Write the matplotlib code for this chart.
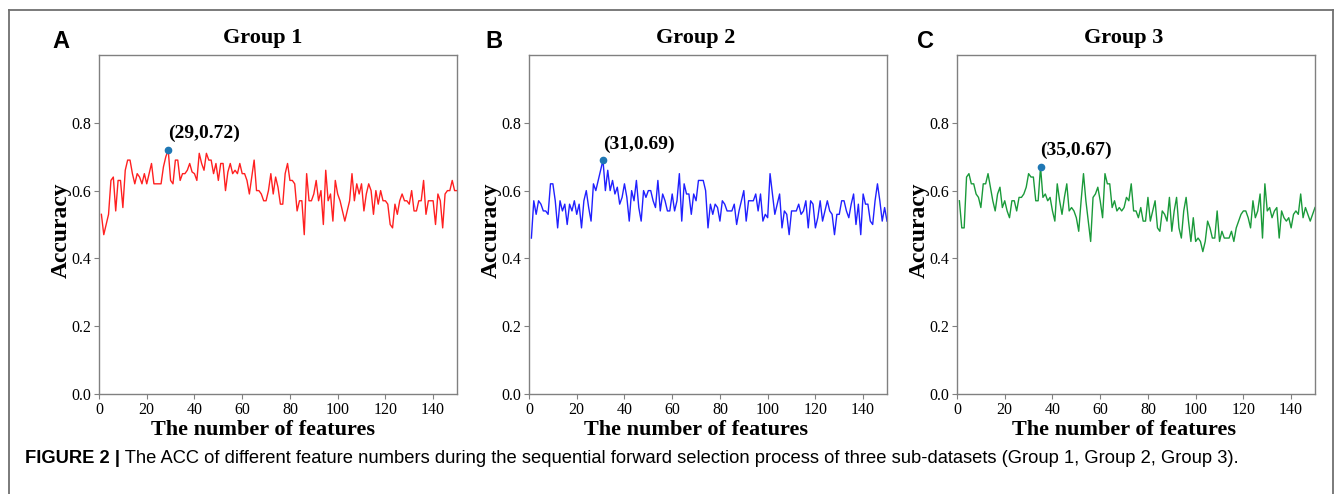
import matplotlib
matplotlib.use("Agg")
import matplotlib.pyplot as plt
from matplotlib.lines import Line2D

# ---------------- data ----------------
features = list(range(1, 151))

acc_group1 = [
    0.53, 0.47, 0.50, 0.53, 0.63, 0.64, 0.54, 0.63, 0.63, 0.55,
    0.66, 0.69, 0.69, 0.65, 0.62, 0.65, 0.64, 0.62, 0.65, 0.62,
    0.65, 0.68, 0.62, 0.62, 0.62, 0.62, 0.67, 0.70, 0.72, 0.63,
    0.62, 0.69, 0.69, 0.63, 0.65, 0.65, 0.66, 0.68, 0.655, 0.65,
    0.63, 0.71, 0.68, 0.66, 0.71, 0.69, 0.69, 0.65, 0.68, 0.63,
    0.68, 0.68, 0.60, 0.655, 0.68, 0.65, 0.66, 0.65, 0.68, 0.65,
    0.65, 0.63, 0.59, 0.64, 0.69, 0.60, 0.60, 0.59, 0.57, 0.57,
    0.60, 0.65, 0.59, 0.64, 0.61, 0.56, 0.56, 0.65, 0.68, 0.63,
    0.63, 0.62, 0.54, 0.57, 0.57, 0.47, 0.65, 0.57, 0.57, 0.59,
    0.63, 0.57, 0.60, 0.50, 0.66, 0.57, 0.59, 0.51, 0.63, 0.59,
    0.57, 0.54, 0.51, 0.54, 0.57, 0.65, 0.57, 0.62, 0.59, 0.62,
    0.54, 0.59, 0.62, 0.60, 0.53, 0.60, 0.56, 0.60, 0.57, 0.57,
    0.56, 0.50, 0.49, 0.56, 0.53, 0.57, 0.59, 0.57, 0.57, 0.56,
    0.60, 0.54, 0.54, 0.57, 0.57, 0.63, 0.53, 0.57, 0.57, 0.57,
    0.50, 0.59, 0.57, 0.49, 0.59, 0.60, 0.60, 0.63, 0.60, 0.60,
]

acc_group2 = [
    0.46, 0.57, 0.53, 0.57, 0.56, 0.54, 0.54, 0.53, 0.62, 0.62,
    0.57, 0.49, 0.57, 0.54, 0.56, 0.50, 0.56, 0.54, 0.57, 0.53,
    0.56, 0.49, 0.57, 0.60, 0.55, 0.51, 0.62, 0.60, 0.63, 0.66,
    0.69, 0.60, 0.66, 0.60, 0.63, 0.59, 0.61, 0.56, 0.58, 0.62,
    0.58, 0.51, 0.60, 0.57, 0.63, 0.55, 0.51, 0.60, 0.58, 0.60,
    0.60, 0.57, 0.55, 0.63, 0.54, 0.59, 0.57, 0.54, 0.54, 0.59,
    0.54, 0.57, 0.65, 0.51, 0.62, 0.59, 0.59, 0.53, 0.59, 0.57,
    0.63, 0.63, 0.63, 0.60, 0.49, 0.56, 0.53, 0.56, 0.55, 0.51,
    0.57, 0.56, 0.54, 0.54, 0.54, 0.56, 0.50, 0.54, 0.57, 0.60,
    0.51, 0.57, 0.57, 0.57, 0.59, 0.54, 0.59, 0.51, 0.53, 0.52,
    0.65, 0.59, 0.53, 0.56, 0.59, 0.49, 0.54, 0.53, 0.47, 0.54,
    0.54, 0.54, 0.56, 0.53, 0.54, 0.57, 0.49, 0.57, 0.56, 0.49,
    0.52, 0.57, 0.51, 0.54, 0.57, 0.54, 0.53, 0.47, 0.53, 0.53,
    0.57, 0.57, 0.54, 0.52, 0.56, 0.59, 0.50, 0.56, 0.47, 0.59,
    0.56, 0.56, 0.51, 0.50, 0.57, 0.62, 0.57, 0.51, 0.55, 0.51,
]

acc_group3 = [
    0.57, 0.49, 0.49, 0.64, 0.65, 0.62, 0.62, 0.59, 0.58, 0.55,
    0.62, 0.62, 0.65, 0.61, 0.57, 0.54, 0.59, 0.61, 0.55, 0.57,
    0.54, 0.52, 0.57, 0.57, 0.54, 0.58, 0.58, 0.59, 0.61, 0.65,
    0.64, 0.64, 0.57, 0.57, 0.67, 0.58, 0.59, 0.57, 0.58, 0.54,
    0.51, 0.62, 0.57, 0.53, 0.58, 0.62, 0.54, 0.55, 0.54, 0.52,
    0.48, 0.57, 0.65, 0.57, 0.51, 0.45, 0.58, 0.59, 0.61, 0.57,
    0.52, 0.65, 0.62, 0.62, 0.55, 0.57, 0.54, 0.55, 0.54, 0.55,
    0.58, 0.57, 0.62, 0.54, 0.54, 0.52, 0.55, 0.51, 0.51, 0.58,
    0.51, 0.54, 0.57, 0.49, 0.48, 0.54, 0.53, 0.51, 0.58, 0.48,
    0.54, 0.58, 0.49, 0.46, 0.54, 0.58, 0.51, 0.45, 0.52, 0.45,
    0.46, 0.45, 0.42, 0.45, 0.51, 0.49, 0.46, 0.46, 0.54, 0.45,
    0.48, 0.46, 0.46, 0.46, 0.48, 0.45, 0.49, 0.51, 0.53, 0.54,
    0.54, 0.52, 0.49, 0.57, 0.52, 0.54, 0.59, 0.46, 0.62, 0.54,
    0.55, 0.52, 0.54, 0.55, 0.46, 0.54, 0.52, 0.51, 0.52, 0.49,
    0.53, 0.54, 0.53, 0.59, 0.52, 0.55, 0.53, 0.51, 0.53, 0.55,
]

titles = ["Group 1", "Group 2", "Group 3"]
panel_letters = ["A", "B", "C"]
best_points = [(29, 0.72), (31, 0.69), (35, 0.67)]
line_colors = ["#ff2020", "#2020ff", "#1a9a3a"]
series = [acc_group1, acc_group2, acc_group3]
yticks = [0.0, 0.2, 0.4, 0.6, 0.8]
xticks = [0, 20, 40, 60, 80, 100, 120, 140]
caption_bold = "FIGURE 2 |"
caption_rest = (" The ACC of different feature numbers during the sequential forward "
                "selection process of three sub-datasets (Group 1, Group 2, Group 3).")

# ---------------- figure ----------------
W, H = 1342, 494
fig = plt.figure(figsize=(W / 100, H / 100), dpi=100)
fig.patch.set_facecolor("white")

serif = ["Liberation Serif", "DejaVu Serif"]
sans = ["Liberation Sans", "DejaVu Sans"]

# outer frame (open at bottom)
frame_col = "#707070"
fig.add_artist(Line2D([9 / W, 1333 / W], [1 - 10 / H, 1 - 10 / H], color=frame_col, lw=1.3))
fig.add_artist(Line2D([9 / W, 9 / W], [1 - 10 / H, 0], color=frame_col, lw=1.3))
fig.add_artist(Line2D([1333 / W, 1333 / W], [1 - 10 / H, 0], color=frame_col, lw=1.3))

lefts = [99, 529, 957]
title_centers = [263, 696, 1124]
letter_x = [61, 494, 925]
ax_w, top, bottom = 358, 55, 394
for i in range(3):
    l = lefts[i]
    ax = fig.add_axes([l / W, 1 - bottom / H, ax_w / W, (bottom - top) / H])
    ax.plot(features, series[i], color=line_colors[i], lw=1.0)
    bx, by = best_points[i]
    ax.plot([bx], [by], "o", color="#1f77b4", ms=4.5, zorder=5)
    ax.annotate(f"({bx},{by:.2f})", xy=(bx, by), xytext=(bx, by + 0.022),
                ha="left", va="bottom", fontsize=14, fontweight="bold", family=serif)
    ax.set_xlim(0, 150)
    ax.set_ylim(0, 1.0)
    ax.set_xticks(xticks)
    ax.set_yticks(yticks)
    ax.set_xticklabels([str(t) for t in xticks], family=serif, fontsize=11.5)
    ax.set_yticklabels([f"{t:.1f}" for t in yticks], family=serif, fontsize=11.5)
    for s in ax.spines.values():
        s.set_color("#808080")
        s.set_linewidth(1.0)
    ax.tick_params(color="#808080", length=3.5, width=0.8, pad=2)
    tx = (title_centers[i] - l) / ax_w
    ax.set_xlabel("The number of features", family=serif, fontsize=16,
                  fontweight="bold")
    ax.xaxis.set_label_coords(tx, -0.077)
    ax.xaxis.label.set_va("top")
    ax.set_ylabel("Accuracy", family=serif, fontsize=17, fontweight="bold")
    ax.yaxis.set_label_coords(-0.075, 0.484)
    ax.set_title(titles[i], family=serif, fontsize=16, fontweight="bold", pad=9, x=tx)
    fig.text(letter_x[i] / W, 1 - 42 / H, panel_letters[i], family=sans, fontsize=17,
             fontweight="bold", ha="center", va="center")

# caption
t1 = fig.text(25 / W, 1 - 458 / H, caption_bold, family=sans, fontsize=13.2,
              fontweight="bold", ha="left", va="center")
fig.canvas.draw()
bb = t1.get_window_extent()
fig.text(bb.x1 / W, 1 - 458 / H, caption_rest, family=sans, fontsize=13.2,
         ha="left", va="center")

fig.savefig("out.png", dpi=100)
